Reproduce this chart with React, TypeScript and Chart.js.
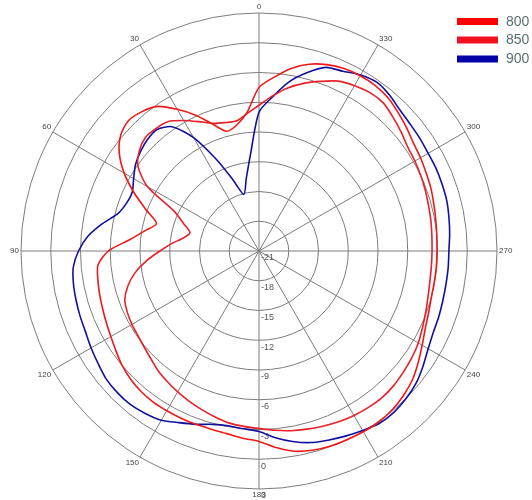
import React, { useEffect, useRef } from 'react';
import { Chart, registerables } from 'chart.js';

Chart.register(...registerables);

// Azimuth angles (degrees, counter-clockwise from the top)
const ANGLES = [0, 5, 10, 15, 20, 25, 30, 35, 40, 45, 50, 55, 60, 65, 70, 75, 80, 85, 90, 95, 100, 105, 110, 115, 120, 125, 130, 135, 140, 145, 150, 155, 160, 165, 170, 175, 180, 185, 190, 195, 200, 205, 210, 215, 220, 225, 230, 235, 240, 245, 250, 255, 260, 265, 270, 275, 280, 285, 290, 295, 300, 305, 310, 315, 320, 325, 330, 335, 340, 345, 350, 355];

const GAIN_800 = [-4.5, -7.0, -8.1, -8.5, -7.4, -5.9, -4.5, -3.2, -2.65, -2.4, -2.8, -3.8, -5.3, -7.1, -8.9, -10.3, -9.3, -7.9, -5.8, -4.7, -4.5, -4.35, -4.2, -4.0, -3.75, -3.4, -3.0, -2.7, -2.5, -2.4, -2.4, -2.4, -2.4, -2.4, -2.3, -2.05, -1.8, -1.1, -0.5, -0.2, -0.05, 0.0, 0.05, 0.05, -0.1, -0.4, -0.8, -1.4, -2.0, -2.5, -2.8, -3.0, -3.05, -3.05, -3.05, -3.0, -2.9, -2.75, -2.55, -2.4, -2.2, -2.0, -1.6, -1.2, -0.8, -0.6, -0.6, -0.7, -1.0, -1.5, -2.3, -3.4];

const GAIN_850 = [-6.3, -7.1, -7.7, -7.6, -7.3, -6.6, -5.8, -5.05, -4.85, -4.8, -5.25, -6.1, -8.0, -11.6, -12.9, -13.8, -13.3, -12.2, -11.0, -9.6, -8.3, -7.3, -6.6, -6.35, -6.2, -6.1, -5.9, -5.6, -5.2, -4.9, -4.6, -4.3, -4.0, -3.7, -3.4, -3.25, -3.1, -2.85, -2.6, -2.4, -2.2, -2.0, -1.85, -1.75, -1.7, -1.8, -2.0, -2.2, -2.45, -2.8, -3.1, -3.35, -3.5, -3.55, -3.55, -3.5, -3.4, -3.3, -3.15, -3.0, -2.85, -2.7, -2.3, -1.9, -1.5, -1.5, -1.75, -2.1, -2.8, -3.5, -4.3, -5.3];

const GAIN_900 = [-7.0, -11.2, -13.6, -15.1, -13.4, -10.8, -7.8, -5.7, -5.0, -5.1, -5.4, -5.8, -6.4, -6.9, -6.8, -6.3, -5.0, -3.7, -2.8, -2.2, -2.0, -1.9, -1.8, -1.7, -1.45, -1.2, -0.9, -0.8, -0.8, -1.0, -1.3, -1.9, -2.4, -2.9, -3.1, -3.0, -2.8, -2.1, -1.5, -1.0, -0.7, -0.4, -0.1, 0.2, 0.2, 0.0, -0.3, -0.8, -1.3, -1.6, -1.7, -1.8, -1.85, -1.85, -1.85, -1.7, -1.55, -1.4, -1.35, -1.3, -1.3, -1.2, -1.1, -0.9, -0.5, -0.25, -0.5, -1.0, -1.3, -2.4, -3.7, -5.4];

const SERIES_LABELS = ['800', '850', '900'];
const SERIES_COLORS = ['#f01818', '#e8202a', '#1010a0'];
const LEGEND_COLORS = ['#ff0000', '#f2101c', '#0000a8'];

const RADIAL_MIN = -21;
const RADIAL_MAX = 3;
const RADIAL_STEP = 3;
const ANGLE_TICKS = [0, 30, 60, 90, 120, 150, 180, 210, 240, 270, 300, 330];

export default function App() {
  const canvasRef = useRef<HTMLCanvasElement | null>(null);

  useEffect(() => {
    const canvas = canvasRef.current;
    if (!canvas) return;

    // Radar points go clockwise from startAngle (180 = bottom); the chart's angles run counter-clockwise.
    const order: number[] = [];
    for (let k = 0; k < ANGLES.length; k++) {
      const theta = (((180 - k * 5) % 360) + 360) % 360;
      order.push(ANGLES.indexOf(theta));
    }
    const labels = order.map((i) => String(ANGLES[i]));
    const series = [GAIN_800, GAIN_850, GAIN_900];

    const isMajor = (label: string) => ANGLE_TICKS.includes(Number(label));

    const textPlugin = {
      id: 'polarText',
      afterDraw(chart: any) {
        const ctx = chart.ctx as CanvasRenderingContext2D;
        const scale = chart.scales.r;
        const cx = scale.xCenter;
        const cy = scale.yCenter;
        ctx.save();
        // radial tick labels along the downward spoke
        ctx.font = '9px "Liberation Sans Narrow", "Liberation Sans", Arial, sans-serif';
        ctx.fillStyle = '#555555';
        ctx.textAlign = 'left';
        ctx.textBaseline = 'middle';
        scale.ticks.forEach((t: any) => {
          const d = scale.getDistanceFromCenterForValue(t.value);
          ctx.fillText(String(t.value), cx + 2, cy + d + 7);
        });
        // angle labels at the outer ring
        ctx.font = '8px "Liberation Sans Narrow", "Liberation Sans", Arial, sans-serif';
        ctx.fillStyle = '#444444';
        labels.forEach((lab, k) => {
          if (!isMajor(lab)) return;
          const p = scale.getPointPositionForValue(k, scale.max);
          const dx = (p.x - cx) / scale.drawingArea;
          const dy = (p.y - cy) / scale.drawingArea;
          ctx.textAlign = Math.abs(dx) < 0.1 ? 'center' : dx < 0 ? 'right' : 'left';
          ctx.textBaseline = Math.abs(dy) < 0.1 ? 'middle' : dy < 0 ? 'bottom' : 'top';
          ctx.fillText(lab, p.x + dx * 2, p.y + dy * 2);
        });
        // legend
        ctx.font = '14px "Liberation Sans Narrow", "Liberation Sans", Arial, sans-serif';
        ctx.textAlign = 'left';
        ctx.textBaseline = 'middle';
        const ys = [21.5, 40, 59];
        SERIES_LABELS.forEach((lab, i) => {
          ctx.fillStyle = LEGEND_COLORS[i];
          ctx.fillRect(457, ys[i] - 3.5, 41, 7);
          ctx.fillStyle = '#5a6e6e';
          ctx.fillText(lab, 506, ys[i] + 0.5);
        });
        ctx.restore();
      },
    };

    const chart = new Chart(canvas, {
      type: 'radar',
      data: {
        labels,
        datasets: series.map((s, i) => ({
          label: SERIES_LABELS[i],
          data: order.map((idx) => s[idx]),
          borderColor: SERIES_COLORS[i],
          backgroundColor: 'rgba(0,0,0,0)',
          borderWidth: 1.6,
          fill: false,
          pointRadius: 0,
          pointHoverRadius: 0,
          tension: 0.25,
        })),
      },
      options: {
        responsive: false,
        animation: false,
        devicePixelRatio: 1,
        layout: { padding: { left: 21, right: 35, top: 13, bottom: 11 } },
        plugins: { legend: { display: false }, tooltip: { enabled: false } },
        scales: {
          r: {
            min: RADIAL_MIN,
            max: RADIAL_MAX,
            startAngle: 180,
            beginAtZero: false,
            ticks: { display: false, stepSize: RADIAL_STEP },
            grid: { circular: true, color: '#7c7c7c', lineWidth: 1 },
            angleLines: {
              display: true,
              color: (c: any) => (isMajor(c.label) ? '#7c7c7c' : 'rgba(0,0,0,0)'),
              lineWidth: (c: any) => (isMajor(c.label) ? 1 : 0),
            },
            pointLabels: { display: false },
          },
        },
      },
      plugins: [textPlugin],
    } as any);

    return () => chart.destroy();
  }, []);

  return (
    <div style={{ position: 'absolute', left: 0, top: 0, width: 532, height: 500, background: '#ffffff' }}>
      <canvas ref={canvasRef} width={532} height={500} />
    </div>
  );
}
